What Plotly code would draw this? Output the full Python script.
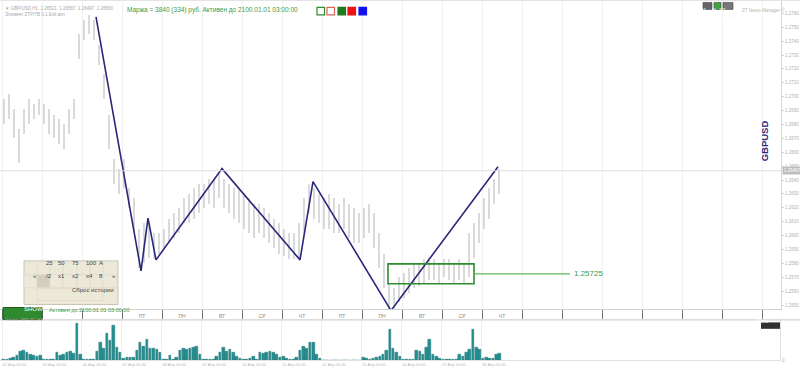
import plotly.graph_objects as go

W, H = 800, 372
def px(x): return x / W
def py(y): return 1 - y / H

# ---------------- data ----------------
BARS_PER_DAY = 8   # 3-hour price bars
price_high = [1.2698, 1.2702, 1.2691, 1.2677, 1.2691, 1.2698, 1.2695, 1.2698,
              1.2695, 1.2691, 1.2687, 1.2684, 1.2680, 1.2691, 1.2698, 1.2745,
              1.2755, 1.2759, 1.2755, 1.2737, 1.2716, 1.2687, 1.2655, 1.2648,
              1.2655, 1.2634, 1.2627, 1.2605, 1.2609, 1.2609, 1.2602, 1.2602,
              1.2605, 1.2612, 1.2616, 1.2620, 1.2627, 1.2630, 1.2634, 1.2637,
              1.2637, 1.2641, 1.2641, 1.2645, 1.2641, 1.2637, 1.2634, 1.2634,
              1.2630, 1.2627, 1.2623, 1.2623, 1.2620, 1.2616, 1.2612, 1.2609,
              1.2605, 1.2602, 1.2602, 1.2609, 1.2627, 1.2637, 1.2634, 1.2630,
              1.2627, 1.2630, 1.2627, 1.2623, 1.2627, 1.2623, 1.2620, 1.2616,
              1.2620, 1.2623, 1.2616, 1.2602, 1.2587, 1.2566, 1.2562, 1.2570,
              1.2573, 1.2577, 1.2580, 1.2580, 1.2583, 1.2584, 1.2583, 1.2580,
              1.2583, 1.2583, 1.2580, 1.2583, 1.2580, 1.2602, 1.2609, 1.2616,
              1.2627, 1.2634, 1.2641, 1.2648]
price_low = [1.2680, 1.2684, 1.2670, 1.2652, 1.2673, 1.2680, 1.2684, 1.2687,
             1.2680, 1.2673, 1.2670, 1.2666, 1.2662, 1.2673, 1.2684, 1.2727,
             1.2741, 1.2745, 1.2741, 1.2723, 1.2698, 1.2662, 1.2637, 1.2630,
             1.2634, 1.2620, 1.2602, 1.2577, 1.2580, 1.2584, 1.2583, 1.2587,
             1.2591, 1.2595, 1.2598, 1.2602, 1.2609, 1.2609, 1.2612, 1.2616,
             1.2620, 1.2623, 1.2620, 1.2627, 1.2620, 1.2616, 1.2612, 1.2609,
             1.2605, 1.2602, 1.2598, 1.2602, 1.2598, 1.2595, 1.2591, 1.2587,
             1.2585, 1.2583, 1.2583, 1.2584, 1.2602, 1.2616, 1.2612, 1.2609,
             1.2605, 1.2605, 1.2602, 1.2602, 1.2605, 1.2598, 1.2595, 1.2595,
             1.2598, 1.2602, 1.2591, 1.2577, 1.2562, 1.2546, 1.2548, 1.2552,
             1.2555, 1.2559, 1.2562, 1.2564, 1.2566, 1.2568, 1.2568, 1.2566,
             1.2570, 1.2568, 1.2566, 1.2568, 1.2566, 1.2570, 1.2584, 1.2595,
             1.2605, 1.2612, 1.2623, 1.2630]

zigzag_day = [2.35, 3.475, 3.65, 3.85, 5.5, 7.45, 7.775, 9.725, 12.4]
zigzag_price = [1.27575, 1.25746, 1.26125, 1.25825, 1.26482, 1.25825, 1.26389, 1.25460, 1.26496]

VOL_PER_DAY = 12   # 2-hour volume bars
volume = [100, 100, 200, 300, 500, 900, 1000, 800, 600, 500, 400, 500,
          100, 100, 100, 100, 800, 500, 600, 800, 900, 700, 3700, 600,
          100, 100, 100, 100, 900, 1800, 1200, 2700, 2000, 3500, 1300, 800,
          200, 300, 300, 300, 1000, 1800, 1400, 2100, 1200, 1200, 1100, 800,
          100, 100, 500, 100, 300, 1000, 1200, 1100, 1200, 1300, 1400, 600,
          100, 100, 100, 100, 400, 800, 1300, 900, 1100, 800, 400, 200,
          100, 100, 200, 400, 100, 800, 700, 800, 900, 800, 600, 300,
          400, 200, 100, 100, 300, 1000, 1400, 1200, 1800, 1800, 600, 200,
          0, 0, 0, 0, 0, 0, 0, 0, 0, 0, 0, 0,
          300, 200, 100, 200, 300, 400, 600, 1000, 3100, 1200, 800, 400,
          100, 100, 100, 100, 1000, 900, 600, 1300, 2100, 600, 400, 200,
          100, 100, 100, 100, 100, 600, 400, 800, 1100, 3100, 1300, 1100,
          200, 300, 200, 200, 600, 700]

weekday_labels = ["ПТ", "ПН", "ВТ", "СР", "ЧТ", "ПТ", "ПН", "ВТ", "СР", "ЧТ"]
weekday_days = [3, 4, 5, 6, 7, 8, 9, 10, 11, 12]
date_labels = ["02 Апр 00:00", "03 Апр 00:00", "04 Апр 00:00", "05 Апр 00:00",
               "08 Апр 00:00", "09 Апр 00:00", "10 Апр 00:00", "11 Апр 00:00",
               "12 Апр 00:00", "15 Апр 00:00", "16 Апр 00:00", "17 Апр 00:00",
               "18 Апр 00:00"]

level_price = 1.25725
level_end_day = 14.2
box_days = [9.65, 11.8]
box_prices = [1.25653, 1.25796]
current_price = 1.26467

price_ticks = [1.255 + 0.001 * k for k in range(22)]

# ---------------- figure ----------------
bar_x = [(i + 0.5) / BARS_PER_DAY for i in range(len(price_high))]
vol_x = [(j + 0.5) / VOL_PER_DAY for j in range(len(volume))]

fig = go.Figure()

fig.add_trace(go.Bar(
    x=bar_x, base=price_low, y=[h - l for h, l in zip(price_high, price_low)],
    width=0.04, marker=dict(color="#dadada", line=dict(width=0)),
    xaxis="x", yaxis="y", hoverinfo="skip", showlegend=False))

fig.add_trace(go.Scatter(
    x=zigzag_day, y=zigzag_price, mode="lines",
    line=dict(color="#29287a", width=1.6), xaxis="x", yaxis="y",
    showlegend=False, hoverinfo="skip"))

fig.add_trace(go.Bar(
    x=vol_x, y=volume, width=0.065,
    marker=dict(color="#259090", line=dict(color="#17666a", width=0.4)),
    xaxis="x2", yaxis="y2", showlegend=False, hoverinfo="skip"))

shapes = []
# current price line
shapes.append(dict(type="line", xref="paper", x0=0, x1=px(781), yref="y",
                   y0=current_price, y1=current_price,
                   line=dict(color="#dddddd", width=1)))
# green box and level line
shapes.append(dict(type="rect", xref="x", yref="y", x0=box_days[0], x1=box_days[1],
                   y0=box_prices[0], y1=box_prices[1],
                   line=dict(color="#2e8b2e", width=1.6)))
shapes.append(dict(type="line", xref="x", yref="y", x0=box_days[1], x1=level_end_day,
                   y0=level_price, y1=level_price,
                   line=dict(color="#5cb85c", width=1.2)))
# separator lines
shapes.append(dict(type="line", xref="paper", yref="paper", x0=0, x1=1,
                   y0=py(322.5), y1=py(322.5), line=dict(color="#c8c8c8", width=1)))
shapes.append(dict(type="line", xref="paper", yref="paper", x0=0, x1=1,
                   y0=py(0.5), y1=py(0.5), line=dict(color="#e4e4e4", width=1)))

# control panel
panel_bg = "#ece9d8"
shapes.append(dict(type="rect", xref="paper", yref="paper", x0=px(24), x1=px(118),
                   y0=py(307), y1=py(263), fillcolor=panel_bg,
                   line=dict(color="#c9c5b3", width=1), layer="above"))
cells_r1 = [(37, 50, "25"), (50, 63, "50"), (63, 77, "75"), (77, 90, "100"), (90, 103, "A")]
cells_r2 = [(24, 37, "«"), (37, 50, "/2"), (50, 63, "x1"), (63, 77, "x2"),
            (77, 90, "x4"), (90, 103, "8"), (103, 117, "»")]
annotations = []
for (a, b, t) in cells_r1:
    shapes.append(dict(type="rect", xref="paper", yref="paper", x0=px(a), x1=px(b),
                       y0=py(277), y1=py(264), fillcolor=panel_bg,
                       line=dict(color="#dedad0", width=0.8), layer="above"))
    annotations.append(dict(x=px((a + b) / 2), y=py(270.5), xref="paper", yref="paper",
                            text=t, showarrow=False, font=dict(size=6, color="#444")))
for (a, b, t) in cells_r2:
    fill = "#d3cfbf" if t == "/2" else panel_bg
    shapes.append(dict(type="rect", xref="paper", yref="paper", x0=px(a), x1=px(b),
                       y0=py(290), y1=py(277), fillcolor=fill,
                       line=dict(color="#dedad0", width=0.8), layer="above"))
    annotations.append(dict(x=px((a + b) / 2), y=py(283.5), xref="paper", yref="paper",
                            text=t, showarrow=False, font=dict(size=6, color="#444")))
shapes.append(dict(type="rect", xref="paper", yref="paper", x0=px(37), x1=px(103),
                   y0=py(303), y1=py(291), fillcolor=panel_bg,
                   line=dict(color="#dedad0", width=0.8), layer="above"))
annotations.append(dict(x=px(70), y=py(297.5), xref="paper", yref="paper",
                        text="Сброс истории", showarrow=False,
                        font=dict(size=6, color="#444")))

# SHOW LINE button
shapes.append(dict(type="rect", xref="paper", yref="paper", x0=px(3), x1=px(42),
                   y0=py(322), y1=py(310), fillcolor="#2f8a2f",
                   line=dict(color="#1d5e1d", width=1), layer="above"))
annotations.append(dict(x=px(22.5), y=py(316), xref="paper", yref="paper",
                        text="SHOW LINE", showarrow=False, borderpad=0,
                        font=dict(size=6, color="white")))
annotations.append(dict(x=px(48), y=py(316.5), xref="paper", yref="paper", xanchor="left",
                        text="Активен до 2100.01.01 03:00:00", showarrow=False, borderpad=0,
                        font=dict(size=5.5, color="#3f9a3f")))

# Menu button
shapes.append(dict(type="rect", xref="paper", yref="paper", x0=px(761), x1=px(780),
                   y0=py(331.5), y1=py(325), fillcolor="#333333",
                   line=dict(width=0), layer="above"))
annotations.append(dict(x=px(770.5), y=py(328.3), xref="paper", yref="paper",
                        text="Menu", showarrow=False, font=dict(size=4.5, color="white")))

# colour squares at top
sq = [(317, "#2e8b2e", False), (327, "#e06060", False), (338, "#1f7a1f", True),
      (348, "#ee1111", True), (359, "#1111ee", True)]
for x0, c, filled in sq:
    shapes.append(dict(type="rect", xref="paper", yref="paper", x0=px(x0), x1=px(x0 + 7.5),
                       y0=py(15), y1=py(7.5), fillcolor=c if filled else "white",
                       line=dict(color=c, width=1.2), layer="above"))

# top-right buttons
for x0, x1, c, t in [(703, 712, "#666666", "ZM"), (714, 721, "#3fa33f", "M"),
                     (723, 733, "#777777", "1/2")]:
    shapes.append(dict(type="rect", xref="paper", yref="paper", x0=px(x0), x1=px(x1),
                       y0=py(9.5), y1=py(2.5), fillcolor=c,
                       line=dict(color="#444", width=0.6), layer="above"))
    annotations.append(dict(x=px((x0 + x1) / 2), y=py(6), xref="paper", yref="paper",
                            text=t, showarrow=False, font=dict(size=4.5, color="white")))

annotations += [
    dict(x=px(740), y=py(5.5), xref="paper", yref="paper", xanchor="left",
         text="ZT Neuro Manager ©", showarrow=False, font=dict(size=4.5, color="#b5b5b5")),
    dict(x=px(706), y=py(13.5), xref="paper", yref="paper", xanchor="left",
         text="· · · · · · · · · · · ·", showarrow=False, font=dict(size=4, color="#c0c0c0")),
    dict(x=px(3), y=py(4), xref="paper", yref="paper", xanchor="left",
         text="▼ GBP/USD,H1  1.26521  1.26587  1.26497  1.26560", showarrow=False,
         font=dict(size=4.5, color="#a8a8a8")),
    dict(x=px(3), y=py(10.5), xref="paper", yref="paper", xanchor="left",
         text="Элемент ZTP/TB 0.1 Exit aim", showarrow=False,
         font=dict(size=4.5, color="#a8a8a8")),
    dict(x=px(125), y=py(4.5), xref="paper", yref="paper", xanchor="left",
         text="Маржа = 3840 (334) руб. Активен до 2100.01.01 03:00:00", showarrow=False,
         font=dict(size=6.5, color="#3f9a3f")),
    dict(x=px(772), y=py(142), xref="paper", yref="paper", text="<b>GBPUSD</b>",
         textangle=-90, showarrow=False, font=dict(size=9.5, color="#2a2a80")),
    dict(x=level_end_day + 0.05, y=level_price, xref="x", yref="y", xanchor="left",
         text="1.25725", showarrow=False, font=dict(size=8, color="#3f9a3f")),
    dict(x=px(782), y=current_price, xref="paper", yref="y", xanchor="left",
         text="1.26467", showarrow=False, bgcolor="#bdbdbd",
         font=dict(size=4.5, color="white"), borderpad=1),
    dict(x=px(3), y=py(327), xref="paper", yref="paper", xanchor="left",
         text="Volume GBPUSD,H1", showarrow=False, font=dict(size=4, color="#b5b5b5")),
]

x_range = [-0.05, 19.475]

fig.update_layout(
    width=W, height=H, margin=dict(l=0, r=0, t=0, b=0),
    paper_bgcolor="white", plot_bgcolor="white",
    font=dict(family="Liberation Sans, Arial, sans-serif"),
    bargap=0, barmode="overlay", showlegend=False,
    shapes=shapes, annotations=annotations,
    xaxis=dict(domain=[0, px(781)], range=x_range, anchor="y",
               tickvals=[d + 0.5 for d in weekday_days], ticktext=weekday_labels,
               ticks="", ticklabelstandoff=2, tickfont=dict(size=5, color="#8a8a8a"),
               showgrid=False, zeroline=False, showline=True, linecolor="#d0d0d0",
               minor=dict(tick0=0, dtick=1, ticks="outside", ticklen=9,
                          tickcolor="#777777", showgrid=True, gridcolor="#f1f1f1")),
    yaxis=dict(domain=[py(312), 1], range=[1.25468, 1.27696], side="right",
               anchor="x", tickvals=price_ticks, tickformat=".4f",
               tickfont=dict(size=4.5, color="#b0b0b0"), ticks="outside", ticklen=2,
               tickcolor="#d0d0d0", showgrid=False, zeroline=False,
               showline=True, linecolor="#d8d8d8"),
    xaxis2=dict(domain=[0, px(780)], range=x_range, anchor="y2",
                tickvals=list(range(len(date_labels))), ticktext=date_labels,
                ticks="", ticklabelposition="outside right",
                tickfont=dict(size=4, color="#b8b8b8"),
                showgrid=True, gridcolor="#efefef", zeroline=False,
                showline=True, linecolor="#e0e0e0"),
    yaxis2=dict(domain=[py(363), py(322)], range=[0, 4100], side="right", anchor="x2",
                tickvals=[0], tickfont=dict(size=4.5, color="#b0b0b0"),
                showgrid=False, zeroline=False, showline=True, linecolor="#e0e0e0"),
)

fig.write_html("out.html")
